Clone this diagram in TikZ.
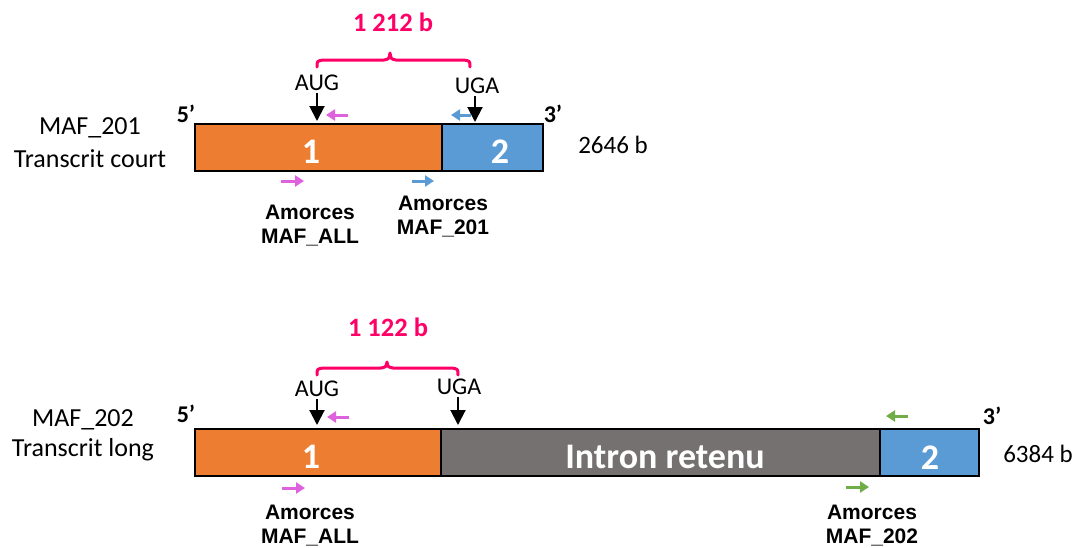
\documentclass[tikz,border=0pt]{standalone}
\usepackage{fontspec}
\setmainfont{Carlito}
\newfontfamily\arialfont{Liberation Sans}
\usetikzlibrary{arrows.meta}
\definecolor{exonorange}{HTML}{ED7D31}
\definecolor{exonblue}{HTML}{5B9BD5}
\definecolor{introngray}{HTML}{767171}
\definecolor{bracepink}{HTML}{FF0066}
\definecolor{primerpink}{RGB}{222,97,222}
\definecolor{primergreen}{HTML}{70AD47}
\tikzset{
  segbox/.style={draw=black, line width=2pt, inner sep=0pt},
  segtext/.style={text=white, font=\bfseries\fontsize{36}{40}\selectfont, inner sep=0pt},
  namelbl/.style={font=\fontsize{26}{30}\selectfont, inner sep=0pt},
  endlbl/.style={font=\bfseries\fontsize{24}{28}\selectfont, inner sep=0pt},
  sizelbl/.style={font=\fontsize{25}{29}\selectfont, inner sep=0pt},
  codonlbl/.style={font=\fontsize{24}{28}\selectfont, inner sep=0pt},
  lenlbl/.style={text=bracepink, font=\bfseries\fontsize{26.5}{30}\selectfont, inner sep=0pt},
  primerlbl/.style={font=\arialfont\bfseries\fontsize{21}{24}\selectfont, align=center, inner sep=0pt},
  codonarrow/.style={draw=black, line width=2pt, -{Triangle[length=15pt,width=15pt]}},
  primer/.style={line width=3pt, -{Triangle[length=9pt,width=11pt]}},
  bracket/.style={draw=bracepink, line width=3pt, line cap=round, line join=round},
}
\begin{document}
\begin{tikzpicture}[x=1pt,y=-1pt]
\useasboundingbox (0,0) rectangle (1081,547);

% ---------- MAF_201 ----------
\draw[segbox, fill=exonorange] (195,124) rectangle (442,171);
\draw[segbox, fill=exonblue] (442,124) rectangle (543,171);
\node[segtext] (t1a) at (311,152) {1};
\node[segtext] (t2a) at (500,152) {2};
\node[namelbl] (n201) at (90,128) {MAF\_201};
\node[namelbl] (c201) at (90,159) {Transcrit court};
\node[endlbl] (p5a) at (186,114) {5’};
\node[endlbl] (p3a) at (553,114) {3’};
\node[sizelbl] (s201) at (613,145) {2646 b};

\node[codonlbl] (aug1) at (317,83) {AUG};
\node[codonlbl] (uga1) at (477,86) {UGA};
\coordinate (aug1t) at (317,121);
\coordinate (uga1t) at (475,122);
\draw[codonarrow] (aug1.south) ++(0,2) -- (aug1t);
\draw[codonarrow] (uga1.south) ++(-2,2) -- (uga1t);

\draw[bracket] (317,67) .. controls (317,61) .. (323,60) -- (384,60) .. controls (389,59) .. (390,53) .. controls (391,59) .. (396,60) -- (464,60) .. controls (470,61) .. (470,67);
\node[lenlbl] (len1) at (393,22) {1 212 b};

\coordinate (pa1s) at (348,115); \coordinate (pa1e) at (326,115);
\draw[primer, primerpink] (pa1s) -- (pa1e);
\coordinate (pb1s) at (471,115); \coordinate (pb1e) at (451,115);
\draw[primer, exonblue] (pb1s) -- (pb1e);
\coordinate (pc1s) at (281,181); \coordinate (pc1e) at (304,181);
\draw[primer, primerpink] (pc1s) -- (pc1e);
\coordinate (pd1s) at (412,181); \coordinate (pd1e) at (434,181);
\draw[primer, exonblue] (pd1s) -- (pd1e);

\node[primerlbl] (am1) at (310,226) {Amorces\\MAF\_ALL};
\node[primerlbl] (am2) at (443,217) {Amorces\\MAF\_201};

% ---------- MAF_202 ----------
\draw[segbox, fill=exonorange] (195,429) rectangle (441,476);
\draw[segbox, fill=introngray] (441,429) rectangle (880,476);
\draw[segbox, fill=exonblue] (880,429) rectangle (979,476);
\node[segtext] (t1b) at (311,457) {1};
\node[segtext] (tib) at (665,457) {Intron retenu};
\node[segtext] (t2b) at (930,458) {2};
\node[namelbl] (n202) at (83,420) {MAF\_202};
\node[namelbl] (c202) at (83,450) {Transcrit long};
\node[endlbl] (p5b) at (186,414) {5’};
\node[endlbl] (p3b) at (992,416) {3’};
\node[sizelbl] (s202) at (1038,454) {6384 b};

\node[codonlbl] (aug2) at (317,389) {AUG};
\node[codonlbl] (uga2) at (459,387) {UGA};
\coordinate (aug2t) at (317,425);
\coordinate (uga2t) at (458,425);
\draw[codonarrow] (aug2.south) ++(0,2) -- (aug2t);
\draw[codonarrow] (uga2.south) ++(-1,2) -- (uga2t);

\draw[bracket] (317,375) .. controls (317,369) .. (323,368) -- (381,368) .. controls (386,367) .. (387,362) .. controls (388,367) .. (393,368) -- (452,368) .. controls (458,369) .. (458,375);
\node[lenlbl] (len2) at (388,327) {1 122 b};

\coordinate (pa2s) at (349,417); \coordinate (pa2e) at (327,417);
\draw[primer, primerpink] (pa2s) -- (pa2e);
\coordinate (pb2s) at (908,416); \coordinate (pb2e) at (886,416);
\draw[primer, primergreen] (pb2s) -- (pb2e);
\coordinate (pc2s) at (282,488); \coordinate (pc2e) at (305,488);
\draw[primer, primerpink] (pc2s) -- (pc2e);
\coordinate (pd2s) at (846,487); \coordinate (pd2e) at (869,487);
\draw[primer, primergreen] (pd2s) -- (pd2e);

\node[primerlbl] (am3) at (310,526) {Amorces\\MAF\_ALL};
\node[primerlbl] (am4) at (872,526) {Amorces\\MAF\_202};
\end{tikzpicture}
\end{document}
